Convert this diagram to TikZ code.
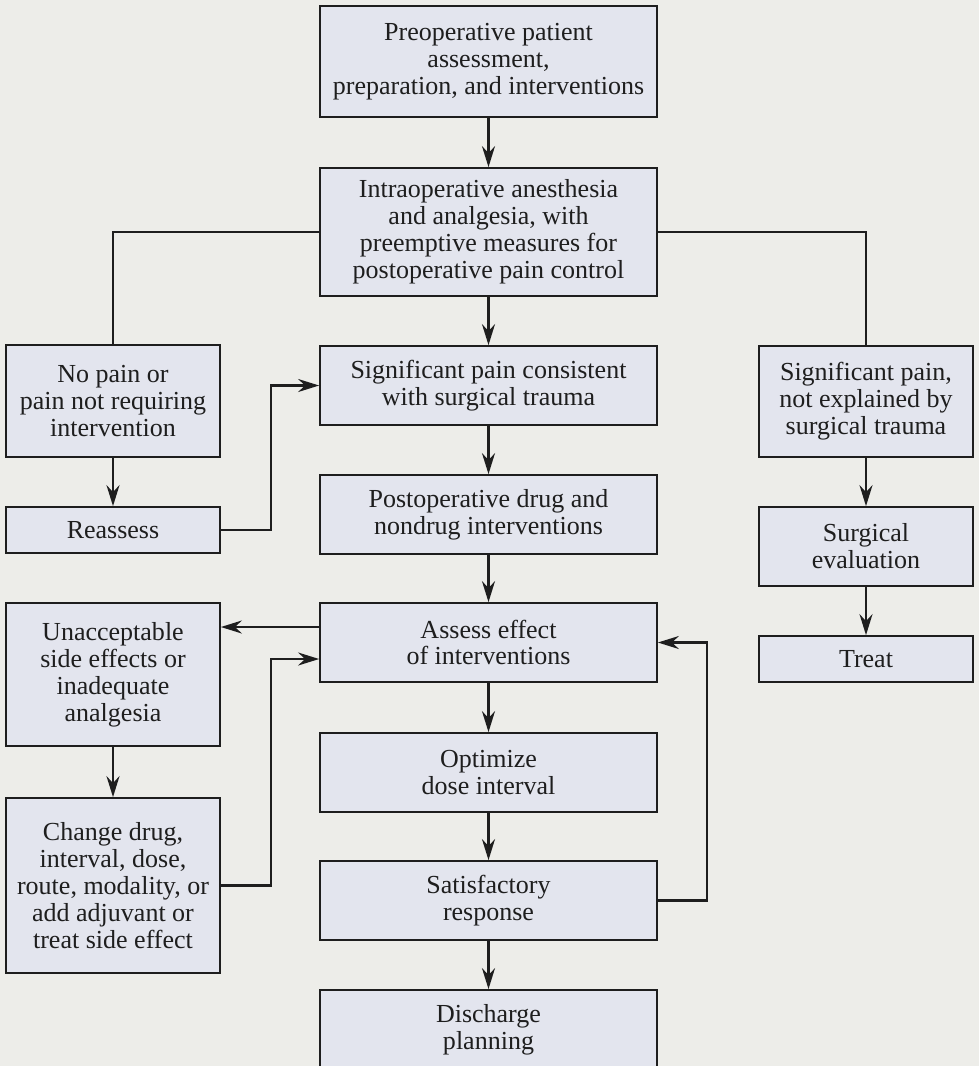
\documentclass[tikz,border=0pt]{standalone}
\usepackage{fontspec}
\setmainfont{Liberation Serif}
\usetikzlibrary{arrows.meta}
\definecolor{pagebg}{HTML}{EDEDE9}
\definecolor{boxfill}{HTML}{E3E5EE}
\definecolor{ink}{HTML}{1E1E1E}
\begin{document}
\begin{tikzpicture}[
block/.style={
draw=ink,
fill=boxfill,
line width=1pt,
rectangle,
align=center,
inner sep=0pt,
text=ink,
font=\fontsize{14.8}{15.3}\selectfont},
mainbox/.style={block, minimum width=6.74cm},
sidebox/.style={block, minimum width=4.28cm},
arr/.style={draw=ink, line width=1.4pt, -{Stealth[length=0.42cm, width=0.26cm, inset=0.14cm]}},
link/.style={draw=ink, line width=1.4pt}
]
\useasboundingbox[fill=pagebg] (0,0) rectangle (19.58,-21.32);

% main column
\draw (9.77,-1.23)node[mainbox, minimum height=2.22cm](pre){Preoperative patient\\assessment,\\preparation, and interventions};
\draw (9.77,-4.64)node[mainbox, minimum height=2.56cm](intra){Intraoperative anesthesia\\and analgesia, with\\preemptive measures for\\postoperative pain control};
\draw (9.77,-7.71)node[mainbox, minimum height=1.58cm](sigpain){Significant pain consistent\\with surgical trauma};
\draw (9.77,-10.29)node[mainbox, minimum height=1.58cm](postop){Postoperative drug and\\nondrug interventions};
\draw (9.77,-12.85)node[mainbox, minimum height=1.58cm](assess){Assess effect\\of interventions};
\draw (9.77,-15.45)node[mainbox, minimum height=1.58cm](optimize){Optimize\\dose interval};
\draw (9.77,-18.01)node[mainbox, minimum height=1.58cm](satisf){Satisfactory\\response};
\draw (9.77,-20.59)node[mainbox, minimum height=1.58cm](discharge){Discharge\\planning};

% left column
\draw (2.26,-8.02)node[sidebox, minimum height=2.24cm](nopain){No pain or\\pain not requiring\\intervention};
\draw (2.26,-10.60)node[sidebox, minimum height=0.92cm](reassess){Reassess};
\draw (2.26,-13.49)node[sidebox, minimum height=2.86cm](unaccept){Unacceptable\\side effects or\\inadequate\\analgesia};
\draw (2.26,-17.71)node[sidebox, minimum height=3.50cm](change){Change drug,\\interval, dose,\\route, modality, or\\add adjuvant or\\treat side effect};

% right column
\draw (17.32,-8.03)node[sidebox, minimum height=2.22cm](notexpl){Significant pain,\\not explained by\\surgical trauma};
\draw (17.32,-10.93)node[sidebox, minimum height=1.58cm](surgeval){Surgical\\evaluation};
\draw (17.32,-13.18)node[sidebox, minimum height=0.92cm](treat){Treat};

% connectors
\draw[arr] (pre) -- (intra);
\draw[arr] (intra) -- (sigpain);
\draw[arr] (sigpain) -- (postop);
\draw[arr] (postop) -- (assess);
\draw[arr] (assess) -- (optimize);
\draw[arr] (optimize) -- (satisf);
\draw[arr] (satisf) -- (discharge);
\draw[link] (intra.west) -| (nopain.north);
\draw[link] (intra.east) -| (notexpl.north);
\draw[arr] (nopain) -- (reassess);
\draw[arr] (reassess.east) -- ++(1,0) |- (sigpain.west);
\draw[arr] ([yshift=0.31cm]assess.west) -- ([yshift=0.31cm]assess.west -| unaccept.east);
\draw[arr] (unaccept) -- (change);
\draw[arr] (change.east) -- ++(1,0) |- ([yshift=-0.33cm]assess.west);
\draw[arr] (satisf.east) -- ++(0.98,0) |- (assess.east);
\draw[arr] (notexpl) -- (surgeval);
\draw[arr] (surgeval) -- (treat);

\end{tikzpicture}
\end{document}
